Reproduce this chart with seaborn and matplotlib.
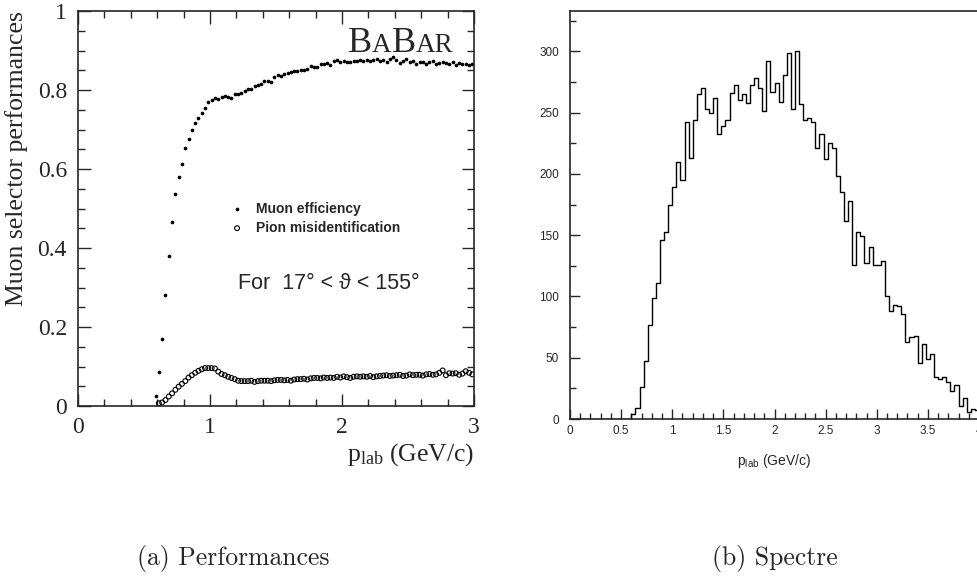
import numpy as np
import pandas as pd
import matplotlib
matplotlib.use("Agg")
import matplotlib.pyplot as plt
import seaborn as sns
from matplotlib.ticker import MultipleLocator, FixedLocator
from matplotlib.offsetbox import TextArea, HPacker, AnchoredOffsetbox

# ---- (a) muon selector performances, bins of 0.025 GeV/c ----
p_mu = np.round(np.arange(0.5875, 3.0, 0.025), 4)
muon_eff = [
    0.025, 0.086, 0.170, 0.280, 0.379, 0.465, 0.536, 0.580, 0.613, 0.652,
    0.677, 0.700, 0.717, 0.729, 0.741, 0.754, 0.770, 0.775, 0.779, 0.777,
    0.782, 0.785, 0.783, 0.781, 0.789, 0.789, 0.792, 0.798, 0.803, 0.803,
    0.811, 0.813, 0.815, 0.824, 0.823, 0.821, 0.832, 0.837, 0.835, 0.840,
    0.842, 0.846, 0.849, 0.849, 0.850, 0.851, 0.852, 0.861, 0.857, 0.858,
    0.865, 0.867, 0.869, 0.863, 0.873, 0.875, 0.870, 0.873, 0.872, 0.870,
    0.874, 0.873, 0.876, 0.874, 0.875, 0.873, 0.877, 0.878, 0.874, 0.875,
    0.872, 0.878, 0.884, 0.876, 0.869, 0.873, 0.879, 0.871, 0.874, 0.865,
    0.872, 0.870, 0.866, 0.871, 0.873, 0.866, 0.869, 0.871, 0.869, 0.867,
    0.870, 0.864, 0.868, 0.866, 0.866, 0.863, 0.866,
]
p_pi = p_mu[1:]
pion_misid = [
    0.007, 0.009, 0.015, 0.024, 0.032, 0.041, 0.049, 0.056, 0.063, 0.072,
    0.078, 0.084, 0.089, 0.093, 0.096, 0.096, 0.096, 0.095, 0.087, 0.081,
    0.078, 0.074, 0.071, 0.068, 0.064, 0.063, 0.063, 0.063, 0.064, 0.061,
    0.063, 0.064, 0.064, 0.064, 0.063, 0.065, 0.066, 0.066, 0.065, 0.066,
    0.064, 0.067, 0.068, 0.068, 0.069, 0.067, 0.070, 0.071, 0.071, 0.070,
    0.072, 0.071, 0.072, 0.071, 0.074, 0.072, 0.075, 0.073, 0.071, 0.074,
    0.075, 0.074, 0.075, 0.074, 0.076, 0.073, 0.075, 0.076, 0.077, 0.078,
    0.076, 0.077, 0.078, 0.079, 0.076, 0.077, 0.080, 0.078, 0.079, 0.079,
    0.077, 0.080, 0.081, 0.079, 0.080, 0.084, 0.090, 0.078, 0.083, 0.082,
    0.083, 0.079, 0.082, 0.088, 0.084, 0.080,
]

# ---- (b) momentum spectrum, 100 bins of 0.04 GeV/c ----
counts = [
    0, 0, 0, 0, 0, 0, 0, 0, 0, 0,
    0, 0, 0, 0, 0, 4, 9, 26, 47, 77,
    99, 111, 146, 153, 175, 189, 210, 195, 242, 213,
    244, 265, 270, 253, 250, 262, 233, 239, 244, 266,
    273, 260, 265, 258, 273, 278, 270, 251, 292, 267,
    274, 259, 281, 299, 253, 300, 257, 244, 246, 242,
    221, 233, 212, 225, 221, 198, 185, 162, 178, 126,
    153, 149, 127, 140, 126, 126, 129, 100, 88, 93,
    92, 86, 63, 67, 68, 46, 61, 49, 53, 34,
    33, 34, 30, 23, 28, 11, 17, 6, 8, 7,
]
p_centers = np.round(np.arange(0.02, 4.0, 0.04), 4)

df_mu = pd.DataFrame({"p": p_mu, "eff": muon_eff})
df_pi = pd.DataFrame({"p": p_pi, "eff": pion_misid})
df_sp = pd.DataFrame({"p": p_centers, "n": counts})

sns.set_style("ticks")
plt.rcParams["font.family"] = ["Liberation Serif", "DejaVu Serif"]

fig = plt.figure(figsize=(9.77, 5.82), dpi=100)
ax1 = fig.add_axes([78 / 977, 176 / 582, 396 / 977, 395 / 582])
ax2 = fig.add_axes([570 / 977, 163 / 582, 409 / 977, 408 / 582])

# left panel
sns.scatterplot(data=df_mu, x="p", y="eff", ax=ax1, color="black", s=7,
                marker="o", linewidth=0, label="Muon efficiency")
sns.scatterplot(data=df_pi, x="p", y="eff", ax=ax1, fc="none", ec="black",
                s=12, marker="o", linewidth=0.8, label="Pion misidentification")
ax1.set_xlim(0, 3)
ax1.set_ylim(0, 1)
ax1.xaxis.set_major_locator(FixedLocator([0, 1, 2, 3]))
ax1.xaxis.set_minor_locator(MultipleLocator(0.2))
ax1.yaxis.set_major_locator(FixedLocator([0, 0.2, 0.4, 0.6, 0.8, 1]))
ax1.yaxis.set_minor_locator(MultipleLocator(0.05))
ax1.set_xticklabels(["0", "1", "2", "3"])
ax1.set_yticklabels(["0", "0.2", "0.4", "0.6", "0.8", "1"])
ax1.tick_params(which="both", direction="in", top=True, right=True,
                labelsize=17, width=1)
ax1.tick_params(which="major", length=9, pad=8)
ax1.tick_params(which="minor", length=5)
for s in ax1.spines.values():
    s.set_linewidth(1.2)
ax1.set_xlabel(r"$\mathregular{p_{lab}}$ (GeV/c)", fontsize=18.5, loc="right",
               labelpad=2)
ax1.set_ylabel("Muon selector performances", fontsize=18.5, loc="top",
               labelpad=7)

leg = ax1.legend(loc="center left", bbox_to_anchor=(0.335, 0.475), frameon=False,
                 handletextpad=0.4, labelspacing=0.35, markerscale=1.0,
                 prop={"family": ["Liberation Sans", "DejaVu Sans"],
                       "weight": "bold", "size": 10})
ax1.text(0.405, 0.31, "For  17\u00b0 < \u03d1 < 155\u00b0", transform=ax1.transAxes,
         ha="left", va="center", fontsize=15.5,
         family=["Liberation Sans", "DejaVu Sans"])

babar = HPacker(children=[
    TextArea("B", textprops=dict(fontsize=26, family="Liberation Serif")),
    TextArea("A", textprops=dict(fontsize=19.5, family="Liberation Serif")),
    TextArea("B", textprops=dict(fontsize=26, family="Liberation Serif")),
    TextArea("AR", textprops=dict(fontsize=19.5, family="Liberation Serif")),
], align="baseline", pad=0, sep=0)
ab = AnchoredOffsetbox(loc="lower right", child=babar, frameon=False, pad=0,
                       borderpad=0, bbox_to_anchor=(0.948, 0.875),
                       bbox_transform=ax1.transAxes)
ax1.add_artist(ab)

# right panel
sns.histplot(data=df_sp, x="p", weights="n", binwidth=0.04, binrange=(0, 4),
             element="step", fill=False, color="black", linewidth=1.0, ax=ax2)
ax2.set_xlim(0, 4)
ax2.set_ylim(0, 333)
ax2.xaxis.set_minor_locator(MultipleLocator(0.1))
ax2.yaxis.set_minor_locator(MultipleLocator(25))
ax2.set_xticks(np.arange(0, 4.01, 0.5))
ax2.set_xticklabels(["0", "0.5", "1", "1.5", "2", "2.5", "3", "3.5", "4"])
ax2.set_yticks(np.arange(0, 301, 50))
ax2.set_yticklabels([str(v) for v in range(0, 301, 50)])
for lab in ax2.get_xticklabels() + ax2.get_yticklabels():
    lab.set_family(["Liberation Sans", "DejaVu Sans"])
ax2.tick_params(which="both", direction="in", labelsize=8.5, width=1)
ax2.tick_params(which="major", length=7, pad=4)
ax2.tick_params(which="minor", length=4)
ax2.tick_params(axis="y", pad=8)
for s in ax2.spines.values():
    s.set_linewidth(1.2)
ax2.set_xlabel(r"$\mathregular{p_{lab}}$ (GeV/c)", fontsize=10, labelpad=11,
               family=["Liberation Sans", "DejaVu Sans"])
ax2.set_ylabel("")

# captions
fig.text(233 / 977, 1 - 558 / 582, "(a) Performances", ha="center", va="center",
         fontsize=18.5, family="cmr10")
fig.text(775 / 977, 1 - 558 / 582, "(b) Spectre", ha="center", va="center",
         fontsize=18.5, family="cmr10")

fig.savefig("out.png", dpi=100)
